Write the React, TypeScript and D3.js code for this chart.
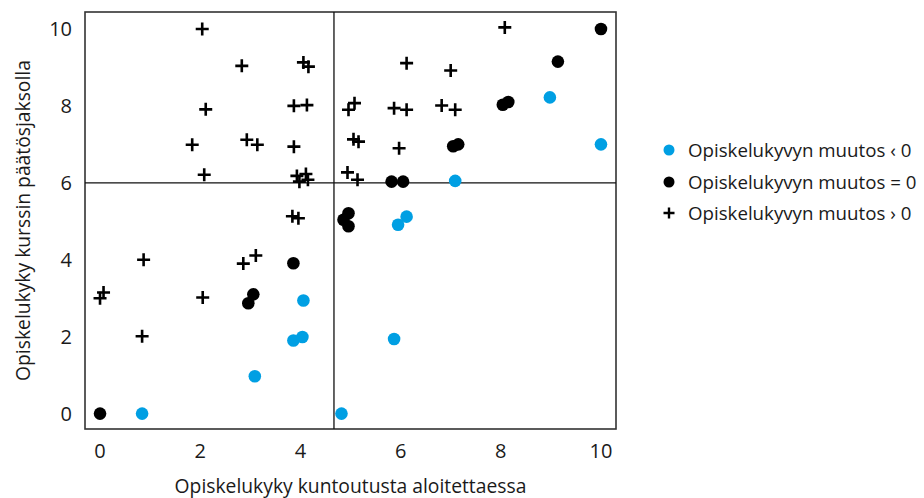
import React, { useEffect, useRef } from "react";
import * as d3 from "d3";

const xTicks = [0, 2, 4, 6, 8, 10];
const yTicks = [0, 2, 4, 6, 8, 10];
const xLabel = "Opiskelukyky kuntoutusta aloitettaessa";
const yLabel = "Opiskelukyky kurssin päätösjaksolla";
const refX = 4.67;
const refY = 6;

const seriesNames = [
  "Opiskelukyvyn muutos ‹ 0",
  "Opiskelukyvyn muutos = 0",
  "Opiskelukyvyn muutos › 0",
];

const negChange: [number, number][] = [
  [0.84, 0], [3.09, 0.97], [3.86, 1.9], [4.04, 1.99], [4.06, 2.94], [4.82, 0],
  [5.87, 1.94], [5.95, 4.91], [6.12, 5.12], [7.09, 6.05], [8.98, 8.22], [10, 7],
];

const zeroChange: [number, number][] = [
  [0, 0], [2.96, 2.87], [3.06, 3.1], [3.86, 3.91], [4.86, 5.04], [4.96, 5.21],
  [4.96, 4.87], [5.82, 6.03], [6.05, 6.03], [7.05, 6.95], [7.15, 7.0],
  [8.04, 8.03], [8.15, 8.1], [9.14, 9.15], [10, 10],
];

const posChange: [number, number][] = [
  [0, 3.0], [0.07, 3.15], [0.84, 2.01], [0.87, 4.0], [2.05, 3.02], [2.86, 3.9],
  [3.11, 4.11], [3.84, 5.13], [3.96, 5.08], [2.04, 10], [2.83, 9.04], [2.11, 7.91],
  [1.84, 6.99], [2.93, 7.12], [3.14, 6.99], [2.08, 6.21], [4.06, 9.13], [4.16, 9.02],
  [3.87, 8.0], [4.13, 8.02], [3.87, 6.94], [3.93, 6.18], [3.98, 6.03], [4.11, 6.23],
  [4.15, 6.08], [6.12, 9.11], [5.08, 8.07], [4.96, 7.9], [5.87, 7.94], [6.12, 7.9],
  [5.06, 7.13], [5.16, 7.07], [5.97, 6.9], [4.94, 6.27], [5.14, 6.08], [8.08, 10.04],
  [7.0, 8.92], [6.82, 8.01], [7.09, 7.9],
];

const BLUE = "#009fe3";
const FONT = "'Open Sans', sans-serif";
const TEXT = "#1a1a1a";

export default function App() {
  const ref = useRef<SVGSVGElement>(null);

  useEffect(() => {
    const svg = d3.select(ref.current);
    svg.selectAll("*").remove();

    const left = 85, right = 616, top = 12, bottom = 429;
    const x = d3.scaleLinear().domain([-0.3, 10.3]).range([left, right]);
    const y = d3.scaleLinear().domain([-0.4, 10.44]).range([bottom, top]);

    svg.append("rect")
      .attr("x", left).attr("y", top)
      .attr("width", right - left).attr("height", bottom - top)
      .attr("fill", "none").attr("stroke", "#333").attr("stroke-width", 1.6);

    svg.append("line")
      .attr("x1", x(refX)).attr("x2", x(refX)).attr("y1", top).attr("y2", bottom)
      .attr("stroke", "#111").attr("stroke-width", 1.3);
    svg.append("line")
      .attr("x1", left).attr("x2", right).attr("y1", y(refY)).attr("y2", y(refY))
      .attr("stroke", "#111").attr("stroke-width", 1.3);

    svg.append("g").selectAll("text").data(xTicks).join("text")
      .attr("x", (d) => x(d)).attr("y", 458)
      .attr("text-anchor", "middle")
      .attr("font-family", FONT).attr("font-size", 20).attr("fill", TEXT)
      .text((d) => String(d));
    svg.append("g").selectAll("text").data(yTicks).join("text")
      .attr("x", 72).attr("y", (d) => y(d) + 7)
      .attr("text-anchor", "end")
      .attr("font-family", FONT).attr("font-size", 20).attr("fill", TEXT)
      .text((d) => String(d));

    svg.append("text")
      .attr("x", x(5)).attr("y", 493)
      .attr("text-anchor", "middle")
      .attr("font-family", FONT).attr("font-size", 19.3).attr("fill", TEXT)
      .text(xLabel);
    svg.append("text")
      .attr("transform", `translate(30, ${(top + bottom) / 2}) rotate(-90)`)
      .attr("text-anchor", "middle")
      .attr("font-family", FONT).attr("font-size", 19.3).attr("fill", TEXT)
      .text(yLabel);

    const plusPath = (s: number) => `M${-s},0H${s}M0,${-s}V${s}`;

    svg.append("g").selectAll("circle").data(zeroChange).join("circle")
      .attr("cx", (d) => x(d[0])).attr("cy", (d) => y(d[1])).attr("r", 6.3)
      .attr("fill", "#000");
    svg.append("g").selectAll("circle").data(negChange).join("circle")
      .attr("cx", (d) => x(d[0])).attr("cy", (d) => y(d[1])).attr("r", 6.3)
      .attr("fill", BLUE);
    svg.append("g").selectAll("path").data(posChange).join("path")
      .attr("transform", (d) => `translate(${x(d[0])},${y(d[1])})`)
      .attr("d", plusPath(6.5))
      .attr("stroke", "#000").attr("stroke-width", 2.6).attr("fill", "none");

    const lg = svg.append("g");
    const ly = [150, 182, 213];
    seriesNames.forEach((name, i) => {
      if (i === 0) {
        lg.append("circle").attr("cx", 669).attr("cy", ly[i]).attr("r", 5.5).attr("fill", BLUE);
      } else if (i === 1) {
        lg.append("circle").attr("cx", 669).attr("cy", ly[i]).attr("r", 5.5).attr("fill", "#000");
      } else {
        lg.append("path").attr("transform", `translate(669,${ly[i]})`).attr("d", plusPath(5.5))
          .attr("stroke", "#000").attr("stroke-width", 2.4);
      }
      lg.append("text")
        .attr("x", 688).attr("y", ly[i] + 6.8)
        .attr("font-family", FONT).attr("font-size", 18.7).attr("fill", TEXT)
        .text(name);
    });
  }, []);

  return (
    <svg
      ref={ref}
      width={924}
      height={498}
      style={{ position: "absolute", left: 0, top: 0, background: "#fff" }}
    />
  );
}
